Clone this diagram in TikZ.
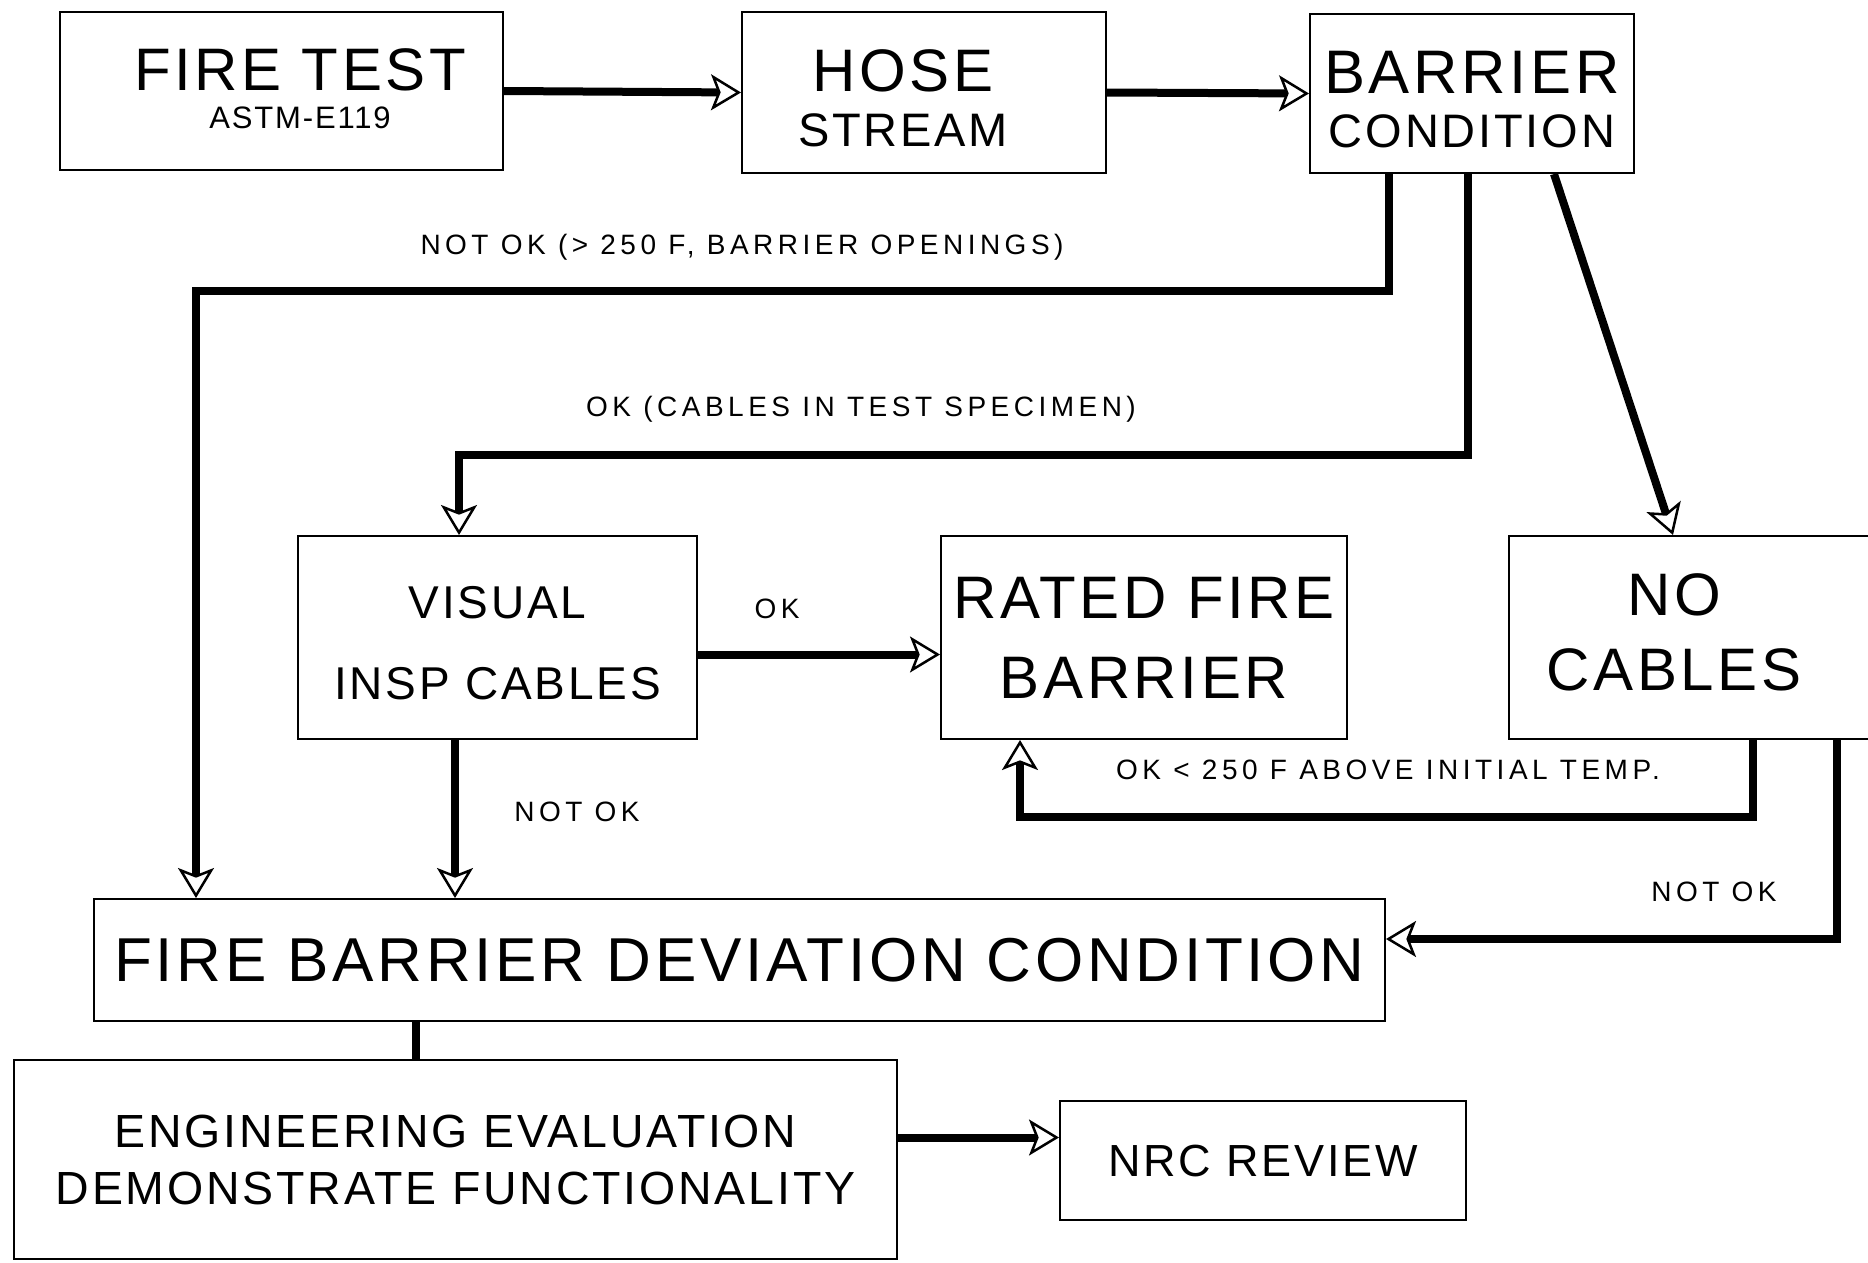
\documentclass[tikz,border=0pt]{standalone}
\usepackage{fontspec}
\setmainfont[LetterSpace=6]{Liberation Sans}
\newfontfamily\lblfont[LetterSpace=16]{Liberation Sans}
\usetikzlibrary{arrows.meta}

\begin{document}
\begin{tikzpicture}[
    x=1pt, y=-1pt,
    box/.style={draw, line width=2pt, inner sep=0pt, align=center},
    boxtext/.style={inner sep=0pt, align=center},
    flow/.style={line width=8pt, -{Stealth[open, length=30pt, width=36pt, inset=7pt, line width=2.5pt]}},
    link/.style={line width=8pt},
    lbl/.style={inner sep=0pt, anchor=base, font=\lblfont\fontsize{28}{34}\selectfont}
]
\useasboundingbox (0,0) rectangle (1868,1263);
\clip (0,0) rectangle (1868,1263);

\node[box, minimum width=443pt, minimum height=158pt] (firetest) at (281.5,91) {};
\node[boxtext, font=\fontsize{60}{38}\selectfont] (firetesttxt) at (300,89)
    {FIRE TEST\\{\fontsize{31}{38}\selectfont ASTM-E119}};
\node[box, minimum width=364pt, minimum height=161pt] (hose) at (924,92.5) {};
\node[boxtext, font=\fontsize{60}{55}\selectfont] (hosetxt) at (903,98.5)
    {HOSE\\{\fontsize{47}{55}\selectfont STREAM}};
\node[box, minimum width=324pt, minimum height=159pt] (barrier) at (1472,93.5) {};
\node[boxtext, font=\fontsize{61.5}{54}\selectfont] (barriertxt) at (1472,100)
    {BARRIER\\{\fontsize{47}{54}\selectfont CONDITION}};

\node[box, minimum width=399pt, minimum height=203pt] (visual) at (497.5,637.5) {};
\node[boxtext, font=\fontsize{46}{81}\selectfont] (visualtxt) at (497.5,643.5)
    {VISUAL\\INSP CABLES};
\node[box, minimum width=406pt, minimum height=203pt, font=\fontsize{60}{80}\selectfont] (rated) at (1144,637.5)
    {RATED FIRE\\BARRIER};
\node[box, minimum width=391pt, minimum height=203pt] (nocables) at (1704.5,637.5) {};
\node[boxtext, font=\fontsize{60}{75}\selectfont] (nocablestxt) at (1674,632)
    {NO\\CABLES};

\node[box, minimum width=1291pt, minimum height=122pt, font=\fontsize{62}{72}\selectfont] (fbdc) at (739.5,960)
    {FIRE BARRIER DEVIATION CONDITION};
\node[box, minimum width=883pt, minimum height=199pt, font=\fontsize{46.5}{57}\selectfont] (eng) at (455.5,1159.5)
    {ENGINEERING EVALUATION\\DEMONSTRATE FUNCTIONALITY};
\node[box, minimum width=406pt, minimum height=119pt, font=\fontsize{45}{54}\selectfont] (nrc) at (1263,1160.5)
    {NRC REVIEW};

\node[lbl] (lnotok1) at (742,254) {NOT OK (> 250 F, BARRIER OPENINGS)};
\node[lbl] (lokcables) at (861,416) {OK (CABLES IN TEST SPECIMEN)};
\node[lbl] (lok) at (777,618) {OK};
\node[lbl] (lnotok2) at (577,821) {NOT OK};
\node[lbl] (lok250) at (1388,779) {OK < 250 F ABOVE INITIAL TEMP.};
\node[lbl] (lnotok3) at (1714,901) {NOT OK};

\draw[flow] (firetest.east) -- (hose.west);
\draw[flow] (hose.east) -- (barrier.west);

\coordinate (k1) at (196,291);
\draw[flow] ([xshift=80pt]barrier.south west) |- (k1) -- (k1 |- fbdc.north);
\coordinate (k2) at (459,455);
\draw[flow] ([xshift=159pt]barrier.south west) |- (k2) -- (k2 |- visual.north);
\draw[flow] ([xshift=245pt]barrier.south west) -- ([xshift=165pt]nocables.north west);

\draw[flow] ([yshift=-17pt]visual.east) -- ([yshift=-17pt]rated.west);
\coordinate (v1) at ([xshift=158pt]visual.south west);
\draw[flow] (v1) -- (v1 |- fbdc.north);

\coordinate (k3) at (1020,817);
\draw[flow] ([xshift=245pt]nocables.south west) |- (k3) -- (k3 |- rated.south);
\draw[flow] ([xshift=329pt]nocables.south west) |- ([yshift=21pt]fbdc.east);

\coordinate (d1) at ([xshift=323pt]fbdc.south west);
\draw[link] (d1) -- (d1 |- eng.north);
\coordinate (e1) at ([yshift=22pt]eng.east);
\draw[flow] (e1) -- (e1 -| nrc.west);
\end{tikzpicture}
\end{document}
